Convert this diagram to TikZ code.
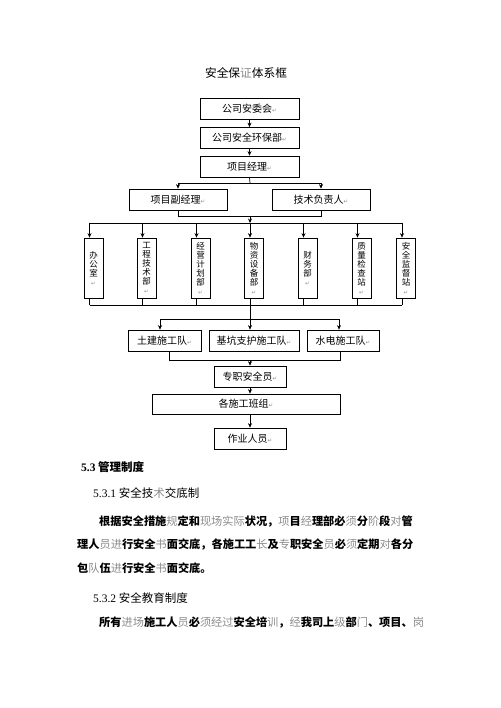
\documentclass[tikz,border=0pt]{standalone}
\usepackage{fontspec}
\setmainfont{Noto Sans CJK SC}
\newfontfamily\tms{Liberation Serif}
\newfontfamily\djv{DejaVu Sans}
\usetikzlibrary{arrows.meta}
\XeTeXlinebreaklocale "zh"
\XeTeXlinebreakskip=0pt plus 2pt
\newcommand\retm{{\djv\fontsize{5.5}{5.5}\selectfont\color{black!45}↵}}
\newcommand\gy[1]{{\mdseries\color{black!45}#1}}
\newcommand\vstk[1]{\vbox{\baselineskip=9pt\lineskiplimit=-20pt\lineskip=0pt #1}}
\newcommand\vc[1]{\hbox to 17pt{\hss#1\hss}}
\begin{document}
\begin{tikzpicture}[x=1pt,y=-1pt,
  box/.style={draw,line width=0.7pt,inner sep=0pt,font=\fontsize{10}{12}\selectfont},
  vbox/.style={draw,line width=0.7pt,inner sep=0pt,minimum width=19pt,minimum height=60pt,font=\fontsize{8.5}{9}\selectfont},
  arr/.style={-{Stealth[length=4.5pt,width=4pt]},line width=0.7pt},
  ln/.style={line width=0.7pt},
  txt/.style={inner sep=0pt,anchor=west,font=\fontsize{11.2}{13}\selectfont}]
\useasboundingbox[fill=white] (0,0) rectangle (500,708);

% title
\node[inner sep=0pt,font=\fontsize{11.7}{13}\selectfont] (title) at (246,73) {安全保\gy{证}体系框};

% top chain
\node[box,minimum width=99pt,minimum height=21pt] (b1) at (249.5,108.5) {公司安委会\retm};
\node[box,minimum width=99pt,minimum height=21pt] (b2) at (249.5,138) {公司安全环保部\retm};
\node[box,minimum width=99pt,minimum height=21pt] (b3) at (249.5,166.5) {项目经理\retm};
\draw[arr] (b1) -- (b2);
\draw[arr] (b2) -- (b3);

\node[box,minimum width=98pt,minimum height=21pt] (pf) at (178,199.5) {项目副经理\retm};
\node[box,minimum width=98pt,minimum height=21pt] (js) at (321,199.5) {技术负责人\retm};
\coordinate (j1) at (250,183);
\draw[ln] (b3.south) -- (j1);
\draw[arr] (j1) -| (pf.north);
\draw[arr] (j1) -| (js.north);
\coordinate (j2) at (250,216);
\draw[ln] (pf.south) -- (pf.south |- j2) -- (js.south |- j2) -- (js.south);

% departments
\node[vbox] (v1) at (93.5,268) {\vstk{\vc{办}\vc{公}\vc{室}\vc{\retm}}};
\node[vbox] (v2) at (146.5,268) {\vstk{\vc{工}\vc{程}\vc{技}\vc{术}\vc{部}\vc{\retm}}};
\node[vbox] (v3) at (200.5,268) {\vstk{\vc{经}\vc{营}\vc{计}\vc{划}\vc{部}\vc{\retm}}};
\node[vbox] (v4) at (254,268) {\vstk{\vc{物}\vc{资}\vc{设}\vc{备}\vc{部}\vc{\retm}}};
\node[vbox] (v5) at (307.5,268) {\vstk{\vc{财}\vc{务}\vc{部}\vc{\retm}}};
\node[vbox] (v6) at (361.5,268) {\vstk{\vc{质}\vc{量}\vc{检}\vc{查}\vc{站}\vc{\retm}}};
\node[vbox] (v7) at (406,268) {\vstk{\vc{安}\vc{全}\vc{监}\vc{督}\vc{站}\vc{\retm}}};
\coordinate (hl) at (250,223);
\draw[arr] (j2) -- (hl);
\draw[ln] ([xshift=-4pt]v1.north |- hl) -- ([xshift=-4pt]v7.north |- hl);
\coordinate (bl) at (250,305);
\draw[ln] ([xshift=-4pt]v1.south |- bl) -- ([xshift=-4pt]v7.south |- bl);
\foreach \v in {v1,v2,v3,v4,v5,v6,v7}{
  \draw[arr] ([xshift=-4pt]\v.north |- hl) -- ([xshift=-4pt]\v.north);
  \draw[ln] ([xshift=-4pt]\v.south) -- ([xshift=-4pt]\v.south |- bl);
}

% teams
\node[box,minimum width=73pt,minimum height=21pt] (t1) at (164.5,340.5) {土建施工队\retm};
\node[box,minimum width=90pt,minimum height=21pt] (t2) at (254,340.5) {基坑支护施工队\retm};
\node[box,minimum width=72pt,minimum height=21pt] (t3) at (343,340.5) {水电施工队\retm};
\coordinate (j3) at (250,319);
\draw[arr] (bl) -- (bl |- t2.north);
\draw[arr] (j3) -| ([xshift=-4.5pt]t1.north);
\draw[arr] (j3) -| ([xshift=-4pt]t3.north);
\coordinate (j4) at (250,360);
\draw[ln] ([xshift=4.5pt]t1.south) -- ([xshift=4.5pt]t1.south |- j4) -- ([xshift=-3pt]t3.south |- j4) -- ([xshift=-3pt]t3.south);

\node[box,minimum width=72pt,minimum height=21pt] (zz) at (250,376.5) {专职安全员\retm};
\node[box,minimum width=188pt,minimum height=20pt] (gs) at (246,404) {各施工班组\retm};
\node[box,minimum width=72pt,minimum height=21pt] (zy) at (250,438.5) {作业人员\retm};
\draw[arr] (j4) -- (zz.north);
\draw[arr] (zz.south) -- (zz.south |- gs.north);
\draw[arr] (zz.south |- gs.south) -- (zy.north);

% text below
\node[txt,font=\fontsize{11.5}{13}\selectfont\bfseries] (h1) at (81,467) {{\tms 5.3} 管理制度};
\node[txt,font=\fontsize{11.5}{13}\selectfont] (h2) at (93,493) {{\tms 5.3.1} 安全技\gy{术}交底制};
\node[txt] (p1) at (99,521) {\hbox to 344pt{\bfseries 根据安全措施\gy{规}定和\gy{现场实际}状况，\gy{项}目\gy{经}理部必\gy{须}分\gy{阶}段\gy{对}管}};
\node[txt] (p2) at (77,544) {\hbox to 366pt{\bfseries 理人\gy{员进}行安全\gy{书}面交底，各施工工\gy{长}及\gy{专}职安全\gy{员}必\gy{须}定期\gy{对}各分}};
\node[txt] (p3) at (77,568) {\bfseries 包\gy{队}伍\gy{进}行安全\gy{书}面交底。};
\node[txt,font=\fontsize{11.5}{13}\selectfont] (h3) at (93,598) {{\tms 5.3.2} 安全教育制度};
\node[txt] (p4) at (99,623) {\bfseries 所有\gy{进场}施工人\gy{员}必\gy{须经过}安全培\gy{训}，\gy{经}我司上\gy{级}部\gy{门}、项目、\gy{岗}};
\end{tikzpicture}
\end{document}
